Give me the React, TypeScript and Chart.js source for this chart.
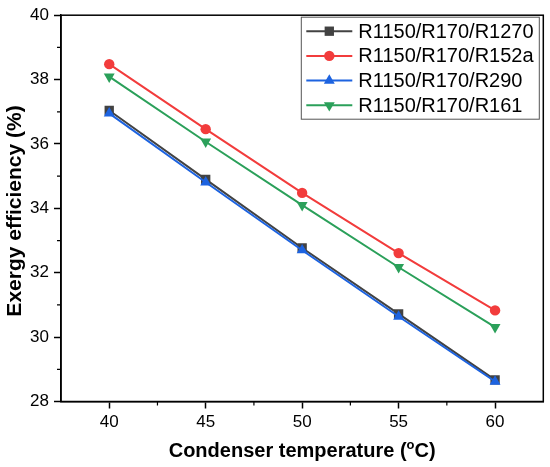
import { useEffect, useRef } from "react";
import { Chart, registerables } from "chart.js";

Chart.register(...registerables);

const temps = [40, 45, 50, 55, 60];
const r1270 = [37.04, 34.9, 32.77, 30.72, 28.67];
const r152a = [38.48, 36.46, 34.48, 32.61, 30.83];
const r290 = [36.95, 34.81, 32.7, 30.64, 28.62];
const r161 = [38.09, 36.07, 34.1, 32.17, 30.31];

const xTicks = [40, 45, 50, 55, 60];
const xMinor = [42.5, 47.5, 52.5, 57.5];
const yMinor = [29, 31, 33, 35, 37, 39];

const FONT = "'Liberation Sans', Arial, sans-serif";

const series = [
  { label: "R1150/R170/R1270", data: r1270, color: "#424242", style: "rect", radius: 6.6, rotation: 0, order: 4 },
  { label: "R1150/R170/R152a", data: r152a, color: "#f23c3c", style: "circle", radius: 5.2, rotation: 0, order: 3 },
  { label: "R1150/R170/R290", data: r290, color: "#1d63e0", style: "triangle", radius: 6.3, rotation: 0, order: 1 },
  { label: "R1150/R170/R161", data: r161, color: "#2ba05a", style: "triangle", radius: 6.3, rotation: 180, order: 2 },
];

// legend marker, same shapes as the chart's point styles
function marker(ctx: CanvasRenderingContext2D, style: string, r: number, rot: number, x: number, y: number) {
  ctx.beginPath();
  if (style === "circle") {
    ctx.arc(x, y, r, 0, Math.PI * 2);
  } else if (style === "rect") {
    const s = r * Math.SQRT1_2;
    ctx.rect(x - s, y - s, 2 * s, 2 * s);
  } else {
    const dir = rot === 180 ? -1 : 1;
    const h = r * 1.5;
    const w = r * Math.sqrt(3);
    ctx.moveTo(x, y - dir * r);
    ctx.lineTo(x - w / 2, y - dir * (r - h));
    ctx.lineTo(x + w / 2, y - dir * (r - h));
    ctx.closePath();
  }
  ctx.fill();
}

const decorPlugin = {
  id: "decor",
  afterDraw(chart: any) {
    const { ctx, chartArea } = chart;
    const xs = chart.scales.x;
    const ys = chart.scales.y;
    ctx.save();
    // frame
    ctx.strokeStyle = "#000";
    ctx.lineWidth = 1.5;
    ctx.strokeRect(chartArea.left, chartArea.top, chartArea.right - chartArea.left, chartArea.bottom - chartArea.top);
    // minor ticks
    ctx.lineWidth = 1.2;
    ctx.beginPath();
    xMinor.forEach((v) => {
      const px = xs.getPixelForValue(v);
      ctx.moveTo(px, chartArea.bottom);
      ctx.lineTo(px, chartArea.bottom + 4);
    });
    yMinor.forEach((v) => {
      const py = ys.getPixelForValue(v);
      ctx.moveTo(chartArea.left, py);
      ctx.lineTo(chartArea.left - 4, py);
    });
    ctx.stroke();

    // x title with superscript o
    ctx.fillStyle = "#000";
    ctx.textBaseline = "alphabetic";
    const cx = (chartArea.left + chartArea.right) / 2;
    const baseY = 457;
    const big = `bold 20px ${FONT}`;
    const small = `bold 13px ${FONT}`;
    const p1 = "Condenser temperature (";
    const p2 = "o";
    const p3 = "C)";
    ctx.font = big;
    const w1 = ctx.measureText(p1).width;
    const w3 = ctx.measureText(p3).width;
    ctx.font = small;
    const w2 = ctx.measureText(p2).width;
    let x0 = cx - (w1 + w2 + w3) / 2;
    ctx.textAlign = "left";
    ctx.font = big;
    ctx.fillText(p1, x0, baseY);
    x0 += w1;
    ctx.font = small;
    ctx.fillText(p2, x0, baseY - 8);
    x0 += w2;
    ctx.font = big;
    ctx.fillText(p3, x0, baseY);

    // y title
    ctx.save();
    ctx.translate(15, 211);
    ctx.rotate(-Math.PI / 2);
    ctx.textAlign = "center";
    ctx.textBaseline = "middle";
    ctx.font = `bold 21px ${FONT}`;
    ctx.fillText("Exergy efficiency (%)", 0, 0);
    ctx.restore();

    // legend box
    const bx = chartArea.right - 242;
    const by = chartArea.top + 2;
    const bw = 238;
    const bh = 102;
    ctx.fillStyle = "#fff";
    ctx.fillRect(bx, by, bw, bh);
    ctx.strokeStyle = "#555";
    ctx.lineWidth = 1;
    ctx.strokeRect(bx, by, bw, bh);
    series.forEach((s, i) => {
      const ry = by + 14 + i * 24.7;
      ctx.strokeStyle = s.color;
      ctx.lineWidth = 2;
      ctx.beginPath();
      ctx.moveTo(bx + 5, ry);
      ctx.lineTo(bx + 51, ry);
      ctx.stroke();
      ctx.fillStyle = s.color;
      marker(ctx, s.style, s.radius, s.rotation, bx + 28, ry);
      ctx.fillStyle = "#000";
      ctx.font = `20px ${FONT}`;
      ctx.textAlign = "left";
      ctx.textBaseline = "middle";
      ctx.fillText(s.label, bx + 57, ry + 1);
    });
    ctx.restore();
  },
};

export default function App() {
  const canvasRef = useRef<HTMLCanvasElement>(null);
  const chartRef = useRef<Chart | null>(null);

  useEffect(() => {
    if (!canvasRef.current) return;
    if (chartRef.current) chartRef.current.destroy();

    chartRef.current = new Chart(canvasRef.current, {
      type: "line",
      data: {
        datasets: series.map((s) => ({
          label: s.label,
          data: temps.map((t, i) => ({ x: t, y: s.data[i] })),
          borderColor: s.color,
          backgroundColor: s.color,
          borderWidth: 2,
          pointStyle: s.style as any,
          pointRadius: s.radius,
          pointRotation: s.rotation,
          pointBorderWidth: 0,
          order: s.order,
          tension: 0,
        })),
      },
      options: {
        responsive: true,
        maintainAspectRatio: false,
        animation: false,
        layout: { padding: { top: 13, right: 6.7, left: 0, bottom: 0 } },
        plugins: {
          legend: { display: false },
          tooltip: { enabled: false },
        },
        scales: {
          x: {
            type: "linear",
            min: 37.5,
            max: 62.5,
            afterBuildTicks: (scale: any) => {
              scale.ticks = xTicks.map((v) => ({ value: v }));
            },
            afterFit: (scale: any) => {
              scale.height = 65.5;
            },
            grid: { drawOnChartArea: false, drawTicks: true, tickLength: 7, tickWidth: 1.5, tickColor: "#000" },
            border: { display: true, color: "#000", width: 1.5 },
            ticks: { color: "#000", font: { family: FONT, size: 17 }, padding: 4, maxRotation: 0 },
          },
          y: {
            min: 28,
            max: 40,
            ticks: { stepSize: 2, color: "#000", font: { family: FONT, size: 17 }, padding: 5 },
            afterFit: (scale: any) => {
              scale.width = 61;
            },
            grid: { drawOnChartArea: false, drawTicks: true, tickLength: 7, tickWidth: 1.5, tickColor: "#000" },
            border: { display: true, color: "#000", width: 1.5 },
          },
        },
      },
      plugins: [decorPlugin],
    });

    return () => {
      if (chartRef.current) {
        chartRef.current.destroy();
        chartRef.current = null;
      }
    };
  }, []);

  return (
    <div style={{ position: "fixed", left: 0, top: 0, width: 550, height: 467, background: "#fff" }}>
      <canvas ref={canvasRef}></canvas>
    </div>
  );
}
